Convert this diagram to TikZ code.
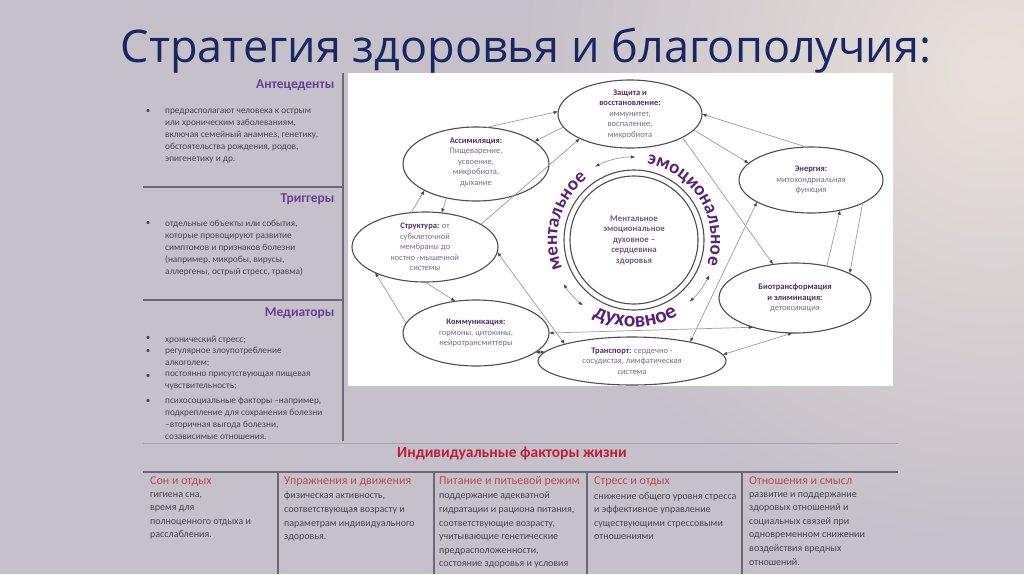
\documentclass[tikz,border=0pt]{standalone}
\usepackage{fontspec}
\setmainfont{Carlito}
\newfontfamily\titlefont{Open Sans}
\usetikzlibrary{shapes.geometric,arrows.meta,decorations.text}

\definecolor{bgcol}{RGB}{197,192,201}
\definecolor{glowcol}{RGB}{232,225,219}
\definecolor{titlecol}{RGB}{24,38,98}
\definecolor{panelhead}{RGB}{104,62,150}
\definecolor{paneltext}{RGB}{72,68,78}
\definecolor{factorred}{RGB}{192,30,55}
\definecolor{factorhead}{RGB}{192,72,84}
\definecolor{rulecol}{RGB}{110,102,122}
\definecolor{blobline}{RGB}{80,74,90}
\definecolor{linkcol}{RGB}{158,154,166}
\definecolor{tipcol}{RGB}{70,64,82}
\definecolor{blobhead}{RGB}{80,46,104}
\definecolor{blobtext}{RGB}{124,106,144}
\definecolor{ringtext}{RGB}{88,34,120}

\newcommand{\bhead}[1]{{\bfseries\color{blobhead}#1}}

\begin{document}
\begin{tikzpicture}[x=1pt, y=1pt,
    blob/.style={draw=blobline, line width=1.1pt, ellipse, inner sep=0pt, outer sep=0pt},
    blobtxt/.style={align=center, text=blobtext, font=\fontsize{8.5}{10.5}\selectfont},
    link/.style={draw=linkcol, line width=0.7pt, -{Latex[length=4.5pt,width=3.4pt,color=tipcol]}},
    twoway/.style={link, {Latex[length=4.5pt,width=3.4pt,color=tipcol]}-{Latex[length=4.5pt,width=3.4pt,color=tipcol]}},
    ringword/.style={decorate, decoration={text along path, text align=center, text color=ringtext}},
    panelhd/.style={anchor=base east, text=panelhead, font=\bfseries\fontsize{13.5}{13.5}\selectfont},
    paneltxt/.style={anchor=north west, inner sep=0pt, align=left, text=paneltext,
                     font=\fontsize{9.3}{12.1}\selectfont, execute at begin node=\strut},
    bulletmark/.style={anchor=base, text=paneltext, font=\fontsize{9}{9}\selectfont},
    factorhd/.style={anchor=base west, inner sep=0pt, text=factorhead, font=\fontsize{12}{12}\selectfont},
    factortxt/.style={anchor=north west, inner sep=0pt, align=left, text=paneltext,
                      font=\fontsize{10}{13.6}\selectfont, execute at begin node=\strut},
    seprule/.style={draw=rulecol, line width=1.2pt},
  ]
  % page background with the light glow at the right
  \useasboundingbox (0,0) rectangle (1024,-574);
  \begin{scope}
    \clip (0,0) rectangle (1024,-574);
    \fill[bgcol] (0,0) rectangle (1024,-574);
    \shade[inner color=glowcol, outer color=bgcol] (995,-70) circle (480);
  \end{scope}

  \node[anchor=base, text=titlecol, font=\titlefont\fontsize{45}{45}\selectfont] (title) at (526,-62) {Стратегия здоровья и благополучия:};

  % left panel
  \draw[seprule] (343,-73) -- (343,-441);
  \draw[seprule] (143,-187) -- (343,-187);
  \draw[seprule] (143,-300) -- (343,-300);

  \node[panelhd] (antec) at (338,-88) {Антецеденты};
  \node[bulletmark] (antec-b) at (148,-113) {•};
  \node[paneltxt] (antec-t) at (165,-108.5) {предрасполагают человека к острым\\или хроническим заболеваниям,\\включая семейный анамнез, генетику,\\обстоятельства рождения, родов,\\эпигенетику и др.};

  \node[panelhd] (trig) at (338,-202) {Триггеры};
  \node[bulletmark] (trig-b) at (148,-225) {•};
  \node[paneltxt] (trig-t) at (165,-219.5) {отдельные объекты или события,\\которые провоцируют развитие\\симптомов и признаков болезни\\(например, микробы, вирусы,\\аллергены, острый стресс, травма)};

  \node[panelhd] (medi) at (338,-316) {Медиаторы};
  \foreach \y/\txt [count=\k] in {340/{хронический стресс;},
      353/{регулярное злоупотребление\\алкоголем;},
      378/{постоянно присутствующая пищевая\\чувствительность;},
      403/{психосоциальные факторы –например,\\подкрепление для сохранения болезни\\–вторичная выгода болезни,\\созависимые отношения.}} {
    \node[bulletmark] (medi-b\k) at (148,-\y) {•};
    \node[paneltxt] (medi-t\k) at (165,-\y+6) {\txt};
  }

  % diagram area
  \fill[white] (348,-73) rectangle (893,-386);

  \node[blob, minimum width=144, minimum height=68] (zash) at (630,-114) {};
  \node[blob, minimum width=146, minimum height=74] (assim) at (476,-164) {};
  \node[blob, minimum width=144, minimum height=66] (energ) at (811,-180) {};
  \node[blob, minimum width=146, minimum height=70] (struk) at (425,-247) {};
  \node[blob, minimum width=152, minimum height=70] (biotr) at (795,-298) {};
  \node[blob, minimum width=146, minimum height=66] (komm) at (476,-333) {};
  \node[blob, minimum width=188, minimum height=48] (transp) at (632,-361) {};

  \node[blobtxt] (zash-t) at (zash) {\bhead{Защита и}\\\bhead{восстановление:}\\иммунитет,\\воспаление,\\микробиота};
  \node[blobtxt] (assim-t) at (476,-162) {\bhead{Ассимиляция:}\\Пищеварение,\\усвоение,\\микробиота,\\дыхание};
  \node[blobtxt] (energ-t) at (energ) {\bhead{Энергия:}\\митохондриальная\\функция};
  \node[blobtxt] (struk-t) at (struk) {\bhead{Структура:} от\\субклеточной\\мембраны до\\костно -мышечной\\системы};
  \node[blobtxt] (biotr-t) at (biotr) {\bhead{Биотрансформация}\\\bhead{и элиминация:}\\детоксикация};
  \node[blobtxt] (komm-t) at (komm) {\bhead{Коммуникация:}\\гормоны, цитокины,\\нейротрансмиттеры};
  \node[blobtxt] (transp-t) at (transp) {\bhead{Транспорт:} сердечно -\\сосудистая, лимфатическая\\система};

  % core of the wheel
  \node[draw=blobline, line width=1.1pt, circle, minimum size=140] (ring) at (634,-240) {};
  \node[draw=blobline, line width=1.1pt, circle, minimum size=128, align=center,
        text=blobhead!80, font=\bfseries\fontsize{8.8}{10.5}\selectfont] (core) at (ring)
        {Ментальное\\эмоциональное\\духовное –\\сердцевина\\здоровья};

  \path[ringword, decoration={text={|\bfseries\fontsize{19}{19}\selectfont|ментальное}}]
    ([shift={(215:77)}]ring.center) arc[start angle=215, end angle=114, radius=77];
  \path[ringword, decoration={text={|\bfseries\fontsize{19}{19}\selectfont|эмоциональное}}]
    ([shift={(100:77)}]ring.center) arc[start angle=100, end angle=-38, radius=77];
  \path[ringword, decoration={text={|\bfseries\fontsize{21.5}{21.5}\selectfont|духовное}}]
    ([shift={(226:87)}]ring.center) arc[start angle=226, end angle=316, radius=87];

  \coordinate (arcA) at ([shift={(118:83)}]ring.center);
  \coordinate (arcB) at ([shift={(-25:83)}]ring.center);
  \coordinate (arcC) at ([shift={(212:83)}]ring.center);
  \draw[twoway] (arcA) arc[start angle=118, end angle=89, radius=83];
  \draw[twoway] (arcB) arc[start angle=-25, end angle=-48, radius=83];
  \draw[twoway] (arcC) arc[start angle=212, end angle=232, radius=83];

  % links between the systems
  \draw[link] (assim.74) -- (zash.178);
  \draw[link] (zash.191) -- (assim.21);
  \draw[link] (struk.22) -- (zash.206);
  \draw[link] (struk.112) -- (assim.207);
  \draw[link] (assim.229) -- (struk.64);
  \draw[link] (komm.172) -- (struk.207);
  \draw[link] (struk.270) -- (komm.123);
  \draw[twoway] (struk.-4) -- (transp.166);
  \draw[twoway] (komm.0) -- (biotr.215);
  \draw[twoway] (komm.-18) -- (transp.174);
  \draw[twoway] (transp.4) -- (biotr.266);
  \draw[twoway] (transp.18) -- (energ.202);
  \draw[link] (zash.-24) -- (biotr.123);
  \draw[link] (zash.-14) -- (energ.165);
  \draw[link] (energ.98) -- (zash.0);
  \draw[link] (biotr.45) -- (energ.-46);
  \draw[link] (energ.-24) -- (biotr.24);

  % life factors table
  \draw[draw=rulecol!60, line width=0.8pt] (143,-443) -- (898,-443);
  \node[anchor=base, text=factorred, font=\bfseries\fontsize{15.5}{15.5}\selectfont] (factors) at (512,-457) {Индивидуальные факторы жизни};
  \draw[seprule] (143,-472) -- (898,-472);
  \foreach \sx in {278,434,587,742}
    \draw[seprule] (\sx,-472) -- (\sx,-574);

  \foreach \cx/\hd/\bd [count=\k] in {
      150/{Сон и отдых}/{гигиена сна,\\время для\\полноценного отдыха и\\расслабления.},
      284/{Упражнения и движения}/{физическая активность,\\соответствующая возрасту и\\параметрам индивидуального\\здоровья.},
      439/{Питание и питьевой режим}/{поддержание адекватной\\гидратации и рациона питания,\\соответствующие возрасту,\\учитывающие генетические\\предрасположенности,\\состояние здоровья и условия},
      594/{Стресс и отдых}/{снижение общего уровня стресса\\и эффективное управление\\существующими стрессовыми\\отношениями},
      749/{Отношения и смысл}/{развитие и поддержание\\здоровых отношений и\\социальных связей при\\одновременном снижении\\воздействия вредных\\отношений.}} {
    \node[factorhd] (fac-h\k) at (\cx,-484) {\hd};
    \node[factortxt] (fac-t\k) at (\cx,-492) {\bd};
  }
\end{tikzpicture}
\end{document}
